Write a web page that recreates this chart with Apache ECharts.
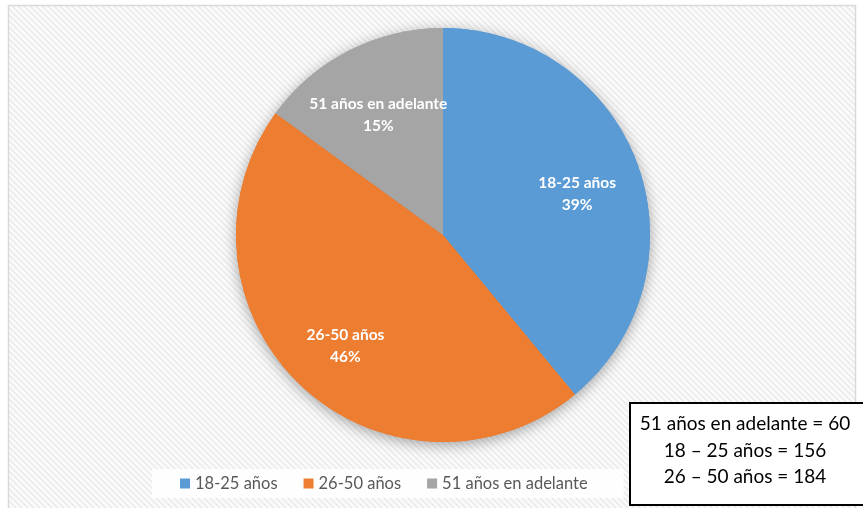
<!DOCTYPE html>
<html>
<head>
<meta charset="utf-8">
<script src="https://cdn.jsdelivr.net/npm/echarts@6/dist/echarts.min.js"></script>
<style>
html,body{margin:0;padding:0;background:#fff;}
#main{width:863px;height:508px;}
</style>
</head>
<body>
<div id="main"></div>
<script>
const categories = ['18-25 años', '26-50 años', '51 años en adelante'];
const values = [156, 184, 60];
const colors = ['#5B9BD5', '#ED7D31', '#A5A5A5'];
const boxLines = ['51 años en adelante = 60', '18 – 25 años = 156', '26 – 50 años = 184'];

function makePattern() {
  const c = document.createElement('canvas');
  c.width = 6; c.height = 6;
  const g = c.getContext('2d');
  g.fillStyle = '#fcfcfc';
  g.fillRect(0, 0, 6, 6);
  g.strokeStyle = '#ededed';
  g.lineWidth = 2;
  g.beginPath();
  g.moveTo(-1, -1); g.lineTo(7, 7);
  g.moveTo(-7, -1); g.lineTo(1, 7);
  g.moveTo(5, -1); g.lineTo(13, 7);
  g.stroke();
  return c;
}

const pieData = categories.map((n, i) => ({ name: n, value: values[i], itemStyle: { color: colors[i] } }));
const chart = echarts.init(document.getElementById('main'), null, { renderer: 'canvas' });
const font = 'Lato, "Open Sans", sans-serif';

const option = {
  backgroundColor: '#ffffff',
  animation: false,
  graphic: [
    {
      type: 'rect', z: -10, silent: true,
      shape: { x: 8.5, y: 5.5, width: 847, height: 520 },
      style: { fill: { image: makePattern(), repeat: 'repeat' }, stroke: '#d9d9d9', lineWidth: 1.5 }
    },
    {
      type: 'group', left: 629, top: 402, z: 100,
      children: [
        { type: 'rect', shape: { x: 1, y: 1, width: 236, height: 102 }, style: { fill: '#ffffff', stroke: '#000', lineWidth: 2 } }
      ].concat(boxLines.map((t, i) => ({
        type: 'text', x: 116, y: 22 + i * 26.5,
        style: { text: t, fill: '#000', font: '19px ' + font, align: 'center', verticalAlign: 'middle' }
      })))
    }
  ],
  legend: {
    data: categories,
    left: 152, top: 469,
    padding: [6, 36, 6, 28],
    backgroundColor: 'rgba(255,255,255,0.85)',
    icon: 'rect', itemWidth: 10, itemHeight: 10, itemGap: 26,
    textStyle: { color: '#595959', fontSize: 16.5, fontFamily: font }
  },
  series: [
    {
      type: 'pie', silent: true, center: [443, 235], radius: [0, 207],
      startAngle: 90, clockwise: true,
      data: pieData,
      itemStyle: { shadowBlur: 14, shadowColor: 'rgba(0,0,0,0.35)', shadowOffsetY: 3 },
      label: { show: false }, labelLine: { show: false }
    },
    {
      type: 'pie', silent: true, center: [443, 235], radius: [0, 207],
      startAngle: 90, clockwise: true,
      data: pieData,
      label: { show: false }, labelLine: { show: false }
    },
    {
      type: 'pie', silent: true, center: [443, 235], radius: [72, 207],
      startAngle: 90, clockwise: true,
      data: categories.map((n, i) => ({ name: n, value: values[i] })),
      itemStyle: { color: 'rgba(0,0,0,0)' },
      labelLayout: { dy: 7 },
      label: {
        show: true, position: 'inside', formatter: '{b}\n{d}%',
        color: '#fff', fontWeight: 'bold', fontSize: 15.5, lineHeight: 22, fontFamily: font
      },
      labelLine: { show: false }
    }
  ]
};
chart.setOption(option);
</script>
</body>
</html>
